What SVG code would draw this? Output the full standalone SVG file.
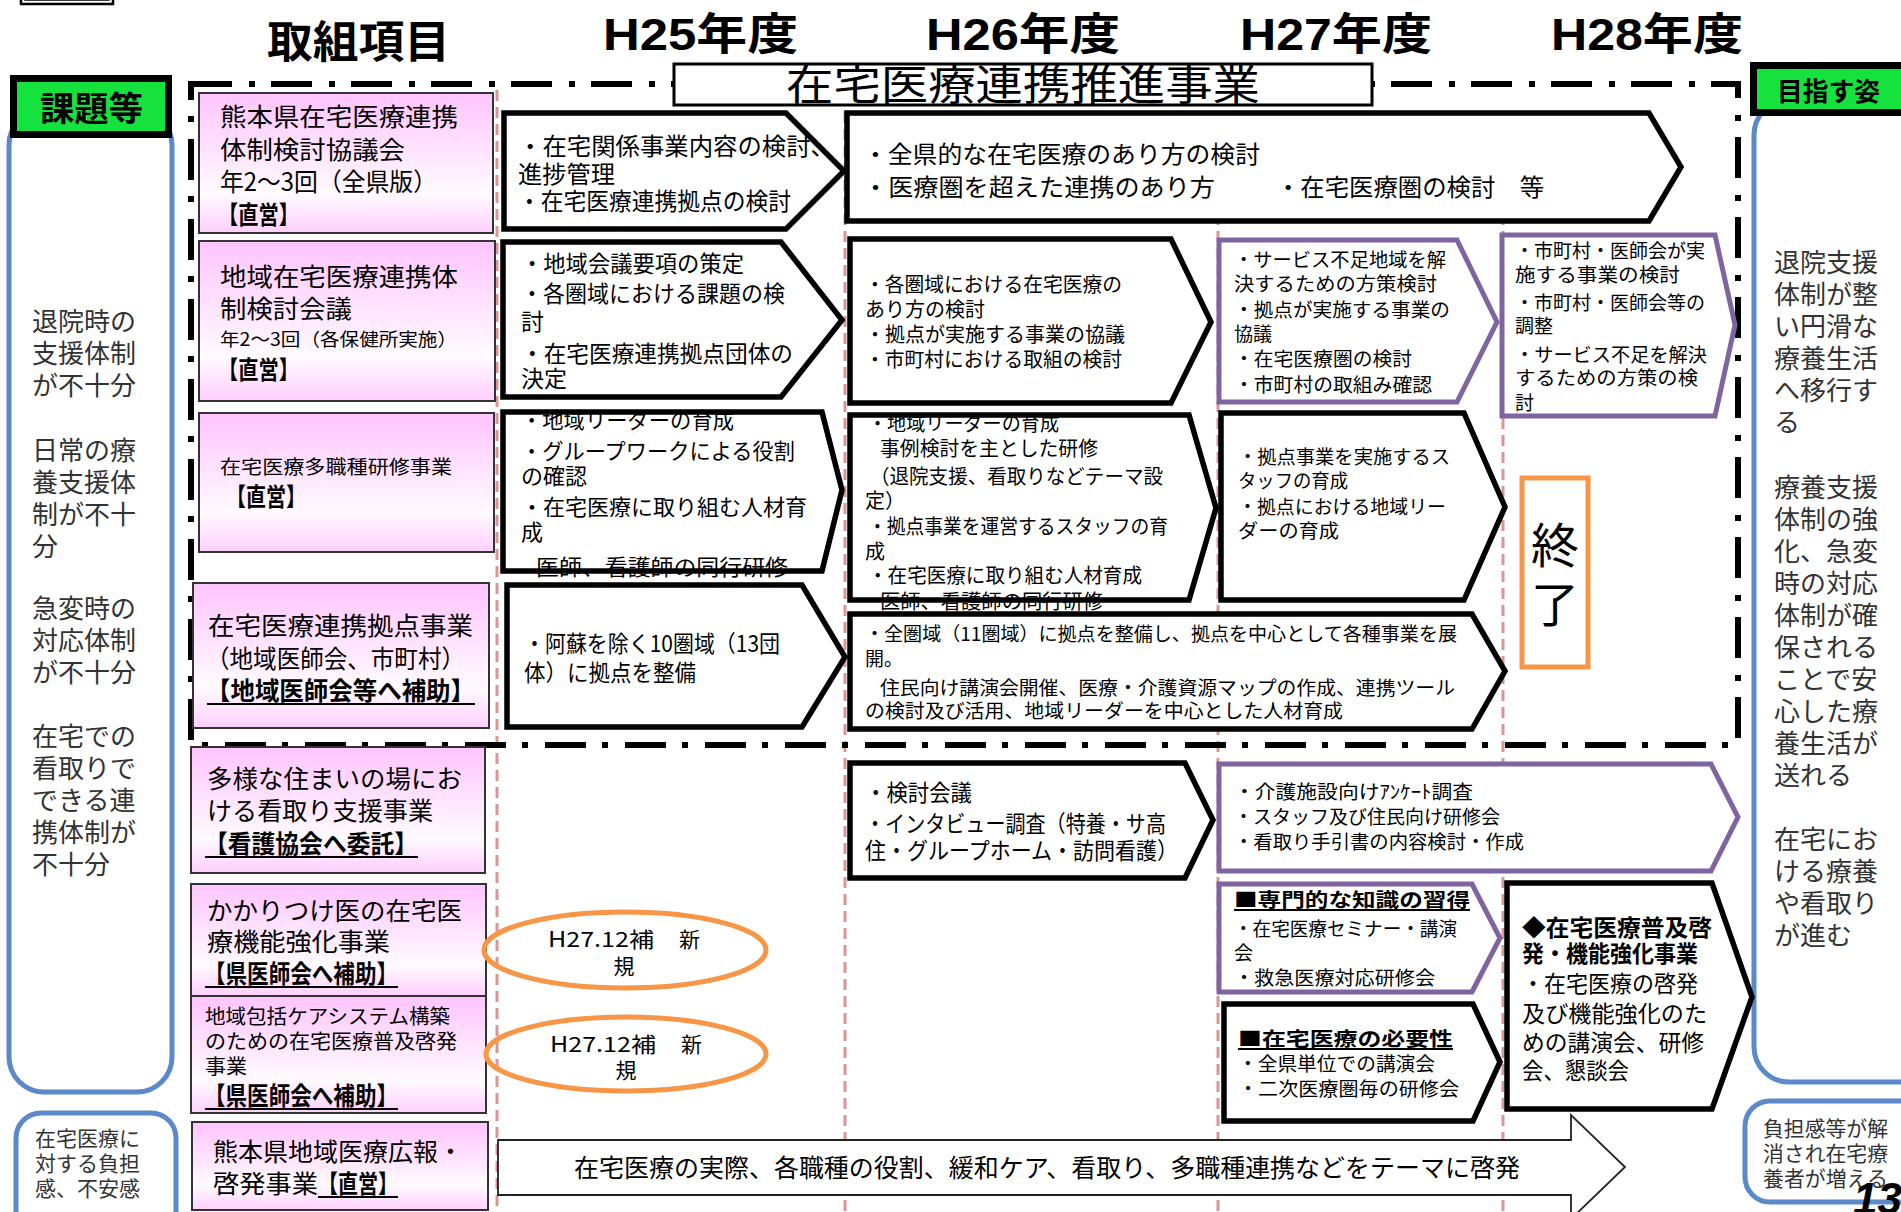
<svg xmlns="http://www.w3.org/2000/svg" width="1901" height="1212" viewBox="0 0 1901 1212">
<defs>
<linearGradient id="pinkg" x1="0" y1="0" x2="0" y2="1">
<stop offset="0" stop-color="#ffc4ff"/>
<stop offset="0.72" stop-color="#fffbff"/>
<stop offset="1" stop-color="#ffcfff"/>
</linearGradient>
<style>
.jp{font-family:"Noto Sans CJK JP","Noto Sans CJK SC",sans-serif;fill:#000}
.b{font-weight:bold}
.hd{font-family:"Liberation Sans","Noto Sans CJK JP",sans-serif;font-weight:bold;font-size:44px;fill:#000}
.gray{fill:#333}
.node{fill:url(#pinkg);stroke:#333;stroke-width:2}
.arw{fill:#fff;stroke:#000;stroke-width:5.5;stroke-linejoin:miter}
.arwp{fill:#fff;stroke:#8064a2;stroke-width:5;stroke-linejoin:miter}
.nofill{fill:none}
.blue{fill:#fff;stroke:#5b89c9;stroke-width:5}
.green{fill:#16e23d;stroke:#000;stroke-width:7}
.pinkline{stroke:#d99694;stroke-width:3;stroke-dasharray:11 6;fill:none}
.frame{stroke:#000;stroke-width:6;stroke-dasharray:41 17 6 16;fill:none}
.orange{fill:none;stroke:#f79646;stroke-width:5}
.ul{stroke:#000;stroke-width:2}
</style>
</defs>
<rect width="1901" height="1212" fill="#fff"/>

<g id="corner-box">
<rect x="21" y="-8" width="92" height="12" fill="#fff" stroke="#000" stroke-width="2.5"/>
<rect x="25" y="-8" width="84" height="8" fill="none" stroke="#000" stroke-width="1.5"/>
</g>

<g id="headers">
<text class="jp b" x="267" y="58" font-size="44" textLength="183" lengthAdjust="spacingAndGlyphs">取組項目</text>
<text class="hd" x="603" y="50" textLength="195" lengthAdjust="spacingAndGlyphs">H25年度</text>
<text class="hd" x="926" y="50" textLength="194" lengthAdjust="spacingAndGlyphs">H26年度</text>
<text class="hd" x="1240" y="50" textLength="192" lengthAdjust="spacingAndGlyphs">H27年度</text>
<text class="hd" x="1551" y="50" textLength="192" lengthAdjust="spacingAndGlyphs">H28年度</text>
</g>

<g id="column-lines">
<line class="pinkline" x1="497" y1="90" x2="497" y2="1212"/>
<line class="pinkline" x1="845" y1="112" x2="845" y2="1212"/>
<line class="pinkline" x1="1218" y1="112" x2="1218" y2="1212"/>
<line class="pinkline" x1="1503" y1="112" x2="1503" y2="1212"/>
</g>

<g id="frame">
<rect class="frame" x="191" y="84" width="1547" height="661"/>
<rect x="674" y="64" width="698" height="41" fill="#fff" stroke="#000" stroke-width="3"/>
<text class="jp" x="786" y="100" font-size="42" textLength="474" lengthAdjust="spacingAndGlyphs">在宅医療連携推進事業</text>
</g>

<g id="issues">
<rect class="blue" x="9" y="110" width="163" height="982" rx="35"/>
<rect class="green" x="13.5" y="78.5" width="155" height="56"/>
<text class="jp b" x="40" y="121" font-size="34" textLength="103" lengthAdjust="spacingAndGlyphs">課題等</text>
<g class="jp gray" font-size="26">
<text x="32" y="331">退院時の</text>
<text x="32" y="363">支援体制</text>
<text x="32" y="395">が不十分</text>
<text x="32" y="460">日常の療</text>
<text x="32" y="492">養支援体</text>
<text x="32" y="524">制が不十</text>
<text x="32" y="556">分</text>
<text x="32" y="618">急変時の</text>
<text x="32" y="650">対応体制</text>
<text x="32" y="682">が不十分</text>
<text x="32" y="746">在宅での</text>
<text x="32" y="778">看取りで</text>
<text x="32" y="810">できる連</text>
<text x="32" y="842">携体制が</text>
<text x="32" y="874">不十分</text>
</g>
</g>

<g id="issues-burden">
<rect class="blue" x="16" y="1113" width="160" height="125" rx="25"/>
<g class="jp gray" font-size="21">
<text x="35" y="1146" textLength="105" lengthAdjust="spacingAndGlyphs">在宅医療に</text>
<text x="35" y="1171" textLength="105" lengthAdjust="spacingAndGlyphs">対する負担</text>
<text x="35" y="1196" textLength="105" lengthAdjust="spacingAndGlyphs">感、不安感</text>
</g>
</g>

<g id="goals">
<rect class="blue" x="1754" y="100" width="200" height="982" rx="35"/>
<rect class="green" x="1753.5" y="65.5" width="160" height="47"/>
<text class="jp b" x="1777" y="101" font-size="26" textLength="103" lengthAdjust="spacingAndGlyphs">目指す姿</text>
<g class="jp gray" font-size="26">
<text x="1774" y="272">退院支援</text>
<text x="1774" y="304">体制が整</text>
<text x="1774" y="336">い円滑な</text>
<text x="1774" y="368">療養生活</text>
<text x="1774" y="400">へ移行す</text>
<text x="1774" y="432">る</text>
<text x="1774" y="497">療養支援</text>
<text x="1774" y="529">体制の強</text>
<text x="1774" y="561">化、急変</text>
<text x="1774" y="593">時の対応</text>
<text x="1774" y="625">体制が確</text>
<text x="1774" y="657">保される</text>
<text x="1774" y="689">ことで安</text>
<text x="1774" y="721">心した療</text>
<text x="1774" y="753">養生活が</text>
<text x="1774" y="785">送れる</text>
<text x="1774" y="849">在宅にお</text>
<text x="1774" y="881">ける療養</text>
<text x="1774" y="913">や看取り</text>
<text x="1774" y="945">が進む</text>
</g>
</g>

<g id="goals-burden">
<rect class="blue" x="1745" y="1101" width="200" height="101" rx="25"/>
<g class="jp gray" font-size="21">
<text x="1763" y="1136" textLength="125" lengthAdjust="spacingAndGlyphs">負担感等が解</text>
<text x="1763" y="1161" textLength="125" lengthAdjust="spacingAndGlyphs">消され在宅療</text>
<text x="1763" y="1186" textLength="125" lengthAdjust="spacingAndGlyphs">養者が増える</text>
</g>
</g>

<g id="n1">
<rect class="node" x="199" y="93" width="294" height="140"/>
<g class="jp" font-size="25">
<text x="220" y="126" textLength="238" lengthAdjust="spacingAndGlyphs">熊本県在宅医療連携</text>
<text x="220" y="159" textLength="185" lengthAdjust="spacingAndGlyphs">体制検討協議会</text>
<text x="220" y="191" textLength="217" lengthAdjust="spacingAndGlyphs">年2～3回（全県版）</text>
<text class="b" x="218" y="224" textLength="81" lengthAdjust="spacingAndGlyphs">【直営】</text>
</g>
</g>

<g id="n2">
<rect class="node" x="199" y="241" width="296" height="160"/>
<g class="jp">
<text x="220" y="286" font-size="25" textLength="238" lengthAdjust="spacingAndGlyphs">地域在宅医療連携体</text>
<text x="220" y="318" font-size="25" textLength="132" lengthAdjust="spacingAndGlyphs">制検討会議</text>
<text x="220" y="346" font-size="18" textLength="237" lengthAdjust="spacingAndGlyphs">年2～3回（各保健所実施）</text>
<text class="b" x="218" y="379" font-size="25" textLength="81" lengthAdjust="spacingAndGlyphs">【直営】</text>
</g>
</g>

<g id="n3">
<rect class="node" x="199" y="413" width="295" height="139"/>
<g class="jp">
<text x="220" y="474" font-size="19" textLength="232" lengthAdjust="spacingAndGlyphs">在宅医療多職種研修事業</text>
<text class="b" x="226" y="506" font-size="25" textLength="80" lengthAdjust="spacingAndGlyphs">【直営】</text>
</g>
</g>

<g id="n4">
<rect class="node" x="193" y="583" width="296" height="145"/>
<g class="jp" font-size="25">
<text x="208" y="635" textLength="265" lengthAdjust="spacingAndGlyphs">在宅医療連携拠点事業</text>
<text x="206" y="668" textLength="259" lengthAdjust="spacingAndGlyphs">（地域医師会、市町村）</text>
<text class="b" x="206" y="700" textLength="269" lengthAdjust="spacingAndGlyphs">【地域医師会等へ補助】</text>
<line class="ul" x1="207" y1="704" x2="475" y2="704"/>
</g>
</g>

<g id="n5">
<rect class="node" x="191" y="747" width="294" height="126"/>
<g class="jp" font-size="25">
<text x="207" y="788" textLength="255" lengthAdjust="spacingAndGlyphs">多様な住まいの場にお</text>
<text x="207" y="820" textLength="226" lengthAdjust="spacingAndGlyphs">ける看取り支援事業</text>
<text class="b" x="204" y="853" textLength="214" lengthAdjust="spacingAndGlyphs">【看護協会へ委託】</text>
<line class="ul" x1="205" y1="857" x2="418" y2="857"/>
</g>
</g>

<g id="n6">
<rect class="node" x="191" y="884" width="295" height="112"/>
<g class="jp" font-size="25">
<text x="207" y="920" textLength="255" lengthAdjust="spacingAndGlyphs">かかりつけ医の在宅医</text>
<text x="207" y="951" textLength="183" lengthAdjust="spacingAndGlyphs">療機能強化事業</text>
<text class="b" x="204" y="983" textLength="194" lengthAdjust="spacingAndGlyphs">【県医師会へ補助】</text>
<line class="ul" x1="205" y1="987" x2="398" y2="987"/>
</g>
</g>

<g id="n7">
<rect class="node" x="191" y="996" width="295" height="117"/>
<g class="jp">
<text x="205" y="1024" font-size="20" textLength="245" lengthAdjust="spacingAndGlyphs">地域包括ケアシステム構築</text>
<text x="205" y="1049" font-size="20" textLength="252" lengthAdjust="spacingAndGlyphs">のための在宅医療普及啓発</text>
<text x="205" y="1074" font-size="20" textLength="42" lengthAdjust="spacingAndGlyphs">事業</text>
<text class="b" x="204" y="1105" font-size="25" textLength="194" lengthAdjust="spacingAndGlyphs">【県医師会へ補助】</text>
<line class="ul" x1="205" y1="1109" x2="398" y2="1109"/>
</g>
</g>

<g id="n8">
<rect class="node" x="192" y="1122" width="296" height="88"/>
<g class="jp" font-size="25">
<text x="213" y="1161" textLength="250" lengthAdjust="spacingAndGlyphs">熊本県地域医療広報・</text>
<text x="213" y="1193" textLength="105" lengthAdjust="spacingAndGlyphs">啓発事業</text>
<text class="b" x="318" y="1193" textLength="80" lengthAdjust="spacingAndGlyphs">【直営】</text>
<line class="ul" x1="318" y1="1197" x2="398" y2="1197"/>
</g>
</g>

<g id="a1">
<path class="arw" d="M504,113 L786,113 L844,171 L786,229 L504,229 Z"/>
<g class="jp" font-size="24">
<text x="518" y="155" textLength="317" lengthAdjust="spacingAndGlyphs">・在宅関係事業内容の検討、</text>
<text x="518" y="183" textLength="97" lengthAdjust="spacingAndGlyphs">進捗管理</text>
<text x="518" y="210" textLength="273" lengthAdjust="spacingAndGlyphs">・在宅医療連携拠点の検討</text>
</g>
</g>

<g id="a2">
<path class="arw" d="M847,113 L1649,113 L1681,167 L1649,221 L847,221 Z"/>
<g class="jp" font-size="24">
<text x="863" y="163" textLength="397" lengthAdjust="spacingAndGlyphs">・全県的な在宅医療のあり方の検討</text>
<text x="863" y="196" textLength="352" lengthAdjust="spacingAndGlyphs">・医療圏を超えた連携のあり方</text>
<text x="1276" y="196" textLength="268" lengthAdjust="spacingAndGlyphs">・在宅医療圏の検討　等</text>
</g>
</g>

<g id="b1">
<path class="arw" d="M503,242 L781,242 L842,320 L781,397 L503,397 Z"/>
<g class="jp" font-size="23">
<text x="521" y="272" textLength="223" lengthAdjust="spacingAndGlyphs">・地域会議要項の策定</text>
<text x="521" y="302" textLength="264" lengthAdjust="spacingAndGlyphs">・各圏域における課題の検</text>
<text x="521" y="330">討</text>
<text x="521" y="362" textLength="272" lengthAdjust="spacingAndGlyphs">・在宅医療連携拠点団体の</text>
<text x="521" y="387">決定</text>
</g>
</g>

<g id="b2">
<path class="arw" d="M850,239 L1171,239 L1211,322 L1171,403 L850,403 Z"/>
<g class="jp" font-size="20">
<text x="865" y="292" textLength="257" lengthAdjust="spacingAndGlyphs">・各圏域における在宅医療の</text>
<text x="865" y="317">あり方の検討</text>
<text x="865" y="342" textLength="260" lengthAdjust="spacingAndGlyphs">・拠点が実施する事業の協議</text>
<text x="865" y="367" textLength="257" lengthAdjust="spacingAndGlyphs">・市町村における取組の検討</text>
</g>
</g>

<g id="b3">
<path class="arwp" d="M1219,240 L1457,240 L1497,322 L1457,402 L1219,402 Z"/>
<g class="jp" font-size="19">
<text x="1234" y="267" textLength="212" lengthAdjust="spacingAndGlyphs">・サービス不足地域を解</text>
<text x="1234" y="291" textLength="203" lengthAdjust="spacingAndGlyphs">決するための方策検討</text>
<text x="1234" y="317" textLength="216" lengthAdjust="spacingAndGlyphs">・拠点が実施する事業の</text>
<text x="1234" y="341">協議</text>
<text x="1234" y="366" textLength="178" lengthAdjust="spacingAndGlyphs">・在宅医療圏の検討</text>
<text x="1234" y="392" textLength="198" lengthAdjust="spacingAndGlyphs">・市町村の取組み確認</text>
</g>
</g>

<g id="b4">
<path class="arwp" d="M1502,235 L1715,235 L1735,325 L1715,416 L1502,416 Z"/>
<g class="jp" font-size="19">
<text x="1515" y="258" textLength="190" lengthAdjust="spacingAndGlyphs">・市町村・医師会が実</text>
<text x="1515" y="282" textLength="165" lengthAdjust="spacingAndGlyphs">施する事業の検討</text>
<text x="1515" y="310" textLength="190" lengthAdjust="spacingAndGlyphs">・市町村・医師会等の</text>
<text x="1515" y="333">調整</text>
<text x="1515" y="362" textLength="192" lengthAdjust="spacingAndGlyphs">・サービス不足を解決</text>
<text x="1515" y="385" textLength="183" lengthAdjust="spacingAndGlyphs">するための方策の検</text>
<text x="1515" y="410">討</text>
</g>
</g>

<g id="c1">
<path fill="#fff" d="M503,412 L822,412 L842,490 L822,571 L503,571 Z"/>
<g class="jp" font-size="22">
<text x="521" y="428" textLength="213" lengthAdjust="spacingAndGlyphs">・地域リーダーの育成</text>
<text x="521" y="459" textLength="274" lengthAdjust="spacingAndGlyphs">・グループワークによる役割</text>
<text x="521" y="484">の確認</text>
<text x="521" y="515" textLength="286" lengthAdjust="spacingAndGlyphs">・在宅医療に取り組む人材育</text>
<text x="521" y="540">成</text>
<text x="536" y="575" textLength="252" lengthAdjust="spacingAndGlyphs">医師、看護師の同行研修</text>
</g>
<path class="arw nofill" d="M503,412 L822,412 L842,490 L822,571 L503,571 Z"/>
</g>

<g id="c2">
<path fill="#fff" d="M850,415 L1189,415 L1216,508 L1189,600 L850,600 Z"/>
<g class="jp" font-size="20">
<text x="868" y="431" textLength="191" lengthAdjust="spacingAndGlyphs">・地域リーダーの育成</text>
<text x="880" y="456" textLength="218" lengthAdjust="spacingAndGlyphs">事例検討を主とした研修</text>
<text x="870" y="484" textLength="293" lengthAdjust="spacingAndGlyphs">（退院支援、看取りなどテーマ設</text>
<text x="865" y="508">定）</text>
<text x="868" y="534" textLength="300" lengthAdjust="spacingAndGlyphs">・拠点事業を運営するスタッフの育</text>
<text x="865" y="559">成</text>
<text x="868" y="583" textLength="274" lengthAdjust="spacingAndGlyphs">・在宅医療に取り組む人材育成</text>
<text x="880" y="609" textLength="223" lengthAdjust="spacingAndGlyphs">医師、看護師の同行研修</text>
</g>
<path class="arw nofill" d="M850,415 L1189,415 L1216,508 L1189,600 L850,600 Z"/>
</g>

<g id="c3">
<path class="arw" d="M1221,413 L1464,413 L1505,507 L1464,600 L1221,600 Z"/>
<g class="jp" font-size="19">
<text x="1238" y="464" textLength="212" lengthAdjust="spacingAndGlyphs">・拠点事業を実施するス</text>
<text x="1238" y="488" textLength="110" lengthAdjust="spacingAndGlyphs">タッフの育成</text>
<text x="1238" y="514" textLength="208" lengthAdjust="spacingAndGlyphs">・拠点における地域リー</text>
<text x="1238" y="538" textLength="101" lengthAdjust="spacingAndGlyphs">ダーの育成</text>
</g>
</g>

<g id="end-box">
<rect class="orange" x="1522" y="478" width="66" height="189"/>
<text class="jp" x="1555" y="563" font-size="48" text-anchor="middle">終</text>
<text class="jp" x="1555" y="622" font-size="48" text-anchor="middle">了</text>
</g>

<g id="d1">
<path class="arw" d="M507,585 L802,585 L845,657 L802,727 L507,727 Z"/>
<g class="jp" font-size="23">
<text x="524" y="652" textLength="256" lengthAdjust="spacingAndGlyphs">・阿蘇を除く10圏域（13団</text>
<text x="524" y="681" textLength="172" lengthAdjust="spacingAndGlyphs">体）に拠点を整備</text>
</g>
</g>

<g id="d2">
<path class="arw" d="M850,614 L1472,614 L1505,671 L1472,729 L850,729 Z"/>
<g class="jp" font-size="19">
<text x="865" y="641" textLength="592" lengthAdjust="spacingAndGlyphs">・全圏域（11圏域）に拠点を整備し、拠点を中心として各種事業を展</text>
<text x="865" y="666">開。</text>
<text x="880" y="695" textLength="575" lengthAdjust="spacingAndGlyphs">住民向け講演会開催、医療・介護資源マップの作成、連携ツール</text>
<text x="865" y="718" textLength="478" lengthAdjust="spacingAndGlyphs">の検討及び活用、地域リーダーを中心とした人材育成</text>
</g>
</g>

<g id="e1">
<path class="arw" d="M850,763 L1185,763 L1213,820 L1185,878 L850,878 Z"/>
<g class="jp" font-size="23">
<text x="865" y="801" textLength="107" lengthAdjust="spacingAndGlyphs">・検討会議</text>
<text x="865" y="832" textLength="301" lengthAdjust="spacingAndGlyphs">・インタビュー調査（特養・サ高</text>
<text x="865" y="859" textLength="313" lengthAdjust="spacingAndGlyphs">住・グループホーム・訪問看護）</text>
</g>
</g>

<g id="e2">
<path class="arwp" d="M1219,764 L1711,764 L1738,817 L1711,871 L1219,871 Z"/>
<g class="jp" font-size="19">
<text x="1234" y="799" textLength="239" lengthAdjust="spacingAndGlyphs">・介護施設向けｱﾝｹｰﾄ調査</text>
<text x="1234" y="824" textLength="266" lengthAdjust="spacingAndGlyphs">・スタッフ及び住民向け研修会</text>
<text x="1234" y="849" textLength="290" lengthAdjust="spacingAndGlyphs">・看取り手引書の内容検討・作成</text>
</g>
</g>

<g id="f1">
<path class="arwp" d="M1219,884 L1472,884 L1500,938 L1472,992 L1219,992 Z"/>
<g class="jp" font-size="19">
<text class="b" x="1234" y="907" textLength="236" lengthAdjust="spacingAndGlyphs">■専門的な知識の習得</text>
<line class="ul" x1="1234" y1="910" x2="1470" y2="910"/>
<text x="1234" y="936" textLength="223" lengthAdjust="spacingAndGlyphs">・在宅医療セミナー・講演</text>
<text x="1234" y="960">会</text>
<text x="1234" y="985" textLength="201" lengthAdjust="spacingAndGlyphs">・救急医療対応研修会</text>
</g>
</g>

<g id="f2">
<path class="arw" d="M1224,1004 L1473,1004 L1500,1062 L1473,1121 L1224,1121 Z"/>
<g class="jp" font-size="19">
<text class="b" x="1238" y="1046" textLength="215" lengthAdjust="spacingAndGlyphs">■在宅医療の必要性</text>
<line class="ul" x1="1238" y1="1049" x2="1453" y2="1049"/>
<text x="1238" y="1071" textLength="197" lengthAdjust="spacingAndGlyphs">・全県単位での講演会</text>
<text x="1238" y="1096" textLength="221" lengthAdjust="spacingAndGlyphs">・二次医療圏毎の研修会</text>
</g>
</g>

<g id="g-promo">
<path class="arw" d="M1507,883 L1712,883 L1752,997 L1712,1109 L1507,1109 Z"/>
<g class="jp" font-size="23">
<text class="b" x="1522" y="936" textLength="190" lengthAdjust="spacingAndGlyphs">◆在宅医療普及啓</text>
<text class="b" x="1522" y="962" textLength="176" lengthAdjust="spacingAndGlyphs">発・機能強化事業</text>
<text x="1522" y="992" textLength="176" lengthAdjust="spacingAndGlyphs">・在宅医療の啓発</text>
<text x="1522" y="1022" textLength="185" lengthAdjust="spacingAndGlyphs">及び機能強化のた</text>
<text x="1522" y="1051" textLength="182" lengthAdjust="spacingAndGlyphs">めの講演会、研修</text>
<text x="1522" y="1079" textLength="107" lengthAdjust="spacingAndGlyphs">会、懇談会</text>
</g>
</g>

<g id="o1">
<ellipse class="orange" cx="625" cy="950" rx="141" ry="38"/>
<g class="jp" font-size="21">
<text x="548" y="947" textLength="106" lengthAdjust="spacingAndGlyphs">H27.12補</text>
<text x="679" y="947">新</text>
<text x="624" y="974" text-anchor="middle">規</text>
</g>
</g>

<g id="o2">
<ellipse class="orange" cx="626" cy="1054" rx="140" ry="37"/>
<g class="jp" font-size="21">
<text x="550" y="1052" textLength="106" lengthAdjust="spacingAndGlyphs">H27.12補</text>
<text x="681" y="1052">新</text>
<text x="626" y="1078" text-anchor="middle">規</text>
</g>
</g>

<g id="h-arrow">
<path d="M498,1140 L1571,1140 L1571,1115 L1625,1167 L1571,1219 L1571,1195 L498,1195 Z" fill="#fff" stroke="#222" stroke-width="1.8"/>
<text class="jp" x="574" y="1177" font-size="25" textLength="946" lengthAdjust="spacingAndGlyphs">在宅医療の実際、各職種の役割、緩和ケア、看取り、多職種連携などをテーマに啓発</text>
</g>

<g id="page-number">
<text x="1853" y="1214" font-family="Liberation Sans, sans-serif" font-size="44" font-weight="bold" font-style="italic" fill="#000">13</text>
</g>
</svg>
